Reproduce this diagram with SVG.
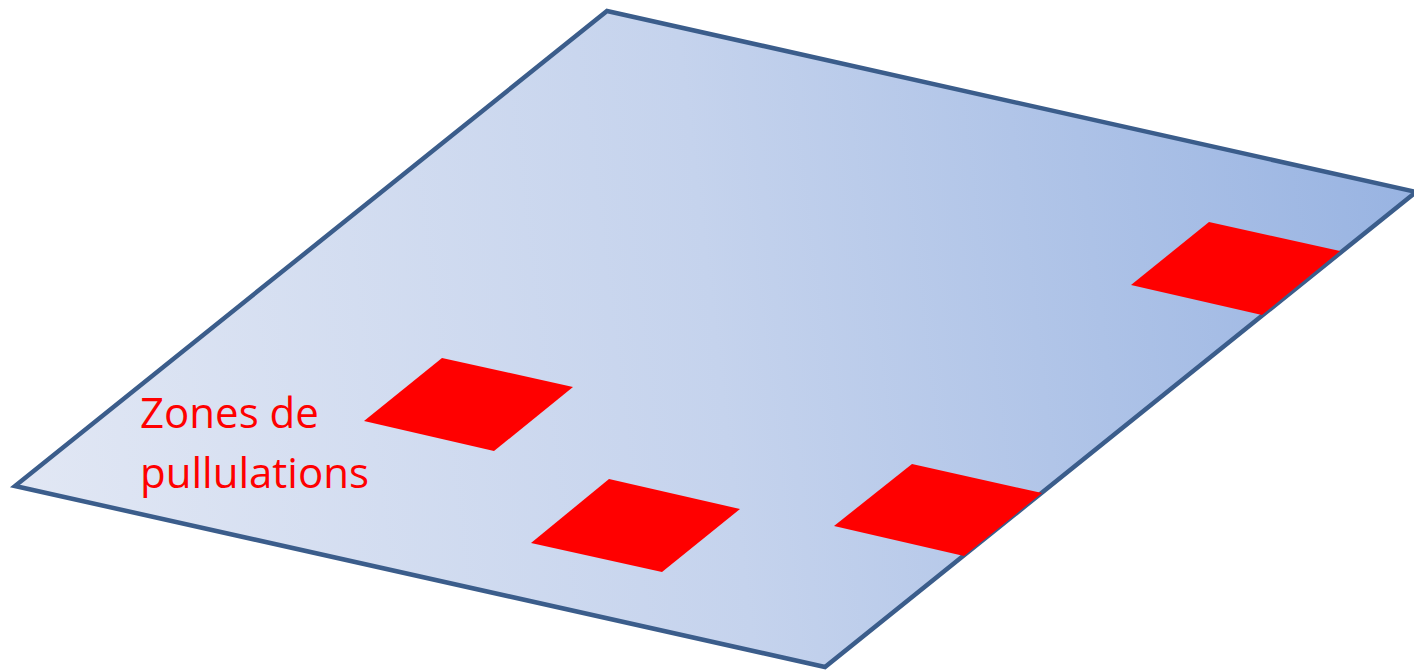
<svg xmlns="http://www.w3.org/2000/svg" width="1414" height="671" viewBox="0 0 1414 671">
<defs>
<linearGradient id="g" gradientUnits="userSpaceOnUse" x1="15" y1="420" x2="1414" y2="250">
<stop offset="0" stop-color="#e1e7f4"/>
<stop offset="0.5" stop-color="#c5d3ed"/>
<stop offset="1" stop-color="#99b4e2"/>
</linearGradient>
<style>
.zone{fill:#ff0000;stroke:none}
.lbl{font-family:"Open Sans","Liberation Sans",sans-serif;font-size:42px;fill:#ff0000}
</style>
</defs>
<g id="plate">
<polygon points="607,11 1416,192 825,667 15,486" fill="url(#g)" stroke="#3b5d8b" stroke-width="4.5" stroke-linejoin="miter"/>
</g>
<g id="zone1"><polygon class="zone" points="442,358 573,387 494,451 364,421"/></g>
<g id="zone2"><polygon class="zone" points="609,479 740,509 662,572 531,543"/></g>
<g id="zone3"><polygon class="zone" points="912,464 1042,493 964,556 834,526"/></g>
<g id="zone4"><polygon class="zone" points="1209,222 1340,251 1262,315 1131,285"/></g>
<g id="label">
<text class="lbl" x="140" y="428">Zones de</text>
<text class="lbl" x="140" y="488">pullulations</text>
</g>
<g id="connectors"/>
</svg>
